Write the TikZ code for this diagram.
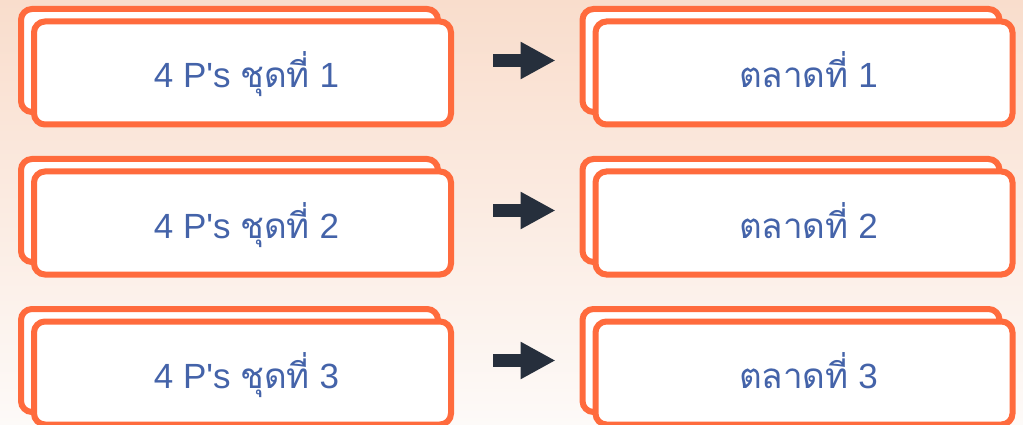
\documentclass[tikz,border=0pt]{standalone}
\usepackage{fontspec}
\setmainfont{Liberation Sans}
\newfontfamily\thaifont[Script=Thai]{Loma}
\usetikzlibrary{arrows.meta}

\definecolor{cardedge}{HTML}{FF6B3D}
\definecolor{cardtext}{HTML}{4463A9}
\definecolor{arrowdark}{HTML}{262F3C}
\definecolor{bgtop}{HTML}{F9DDCC}
\definecolor{bgbottom}{HTML}{FDFAF8}

\begin{document}
\begin{tikzpicture}[x=1pt,y=-1pt,
  card/.style={draw=cardedge, fill=white, line width=6pt, rounded corners=11pt,
    minimum width=417pt, minimum height=103pt, inner sep=0pt,
    text height=30pt, text depth=0pt,
    text=cardtext, font=\fontsize{35}{40}\selectfont},
  flowarrow/.style={draw=arrowdark, line width=13pt,
    -{Triangle[length=35pt,width=35pt]}, shorten <=52pt, shorten >=24pt}]

  % background with soft vertical gradient
  \shade[top color=bgtop, bottom color=bgbottom] (0,0) rectangle (1023,425);
  \useasboundingbox (0,0) rectangle (1023,425);

  \foreach \r/\dy in {1/0, 2/150, 3/300} {
    % stacked cards, rear copy offset up and to the left
    \node[card] (lb\r) at (229.5, 60.5+\dy) {};
    \node[card] (lf\r) at (242.5, 73+\dy) {\hspace{8pt}4 P\textquotesingle s {\thaifont ชุดที่} \r};
    \node[card] (rb\r) at (791, 60.5+\dy) {};
    \node[card] (rf\r) at (804, 73+\dy) {\hspace{9pt}{\thaifont ตลาดที่} \r};
    \draw[flowarrow] (lb\r.east) -- (rb\r.west);
  }
\end{tikzpicture}
\end{document}
